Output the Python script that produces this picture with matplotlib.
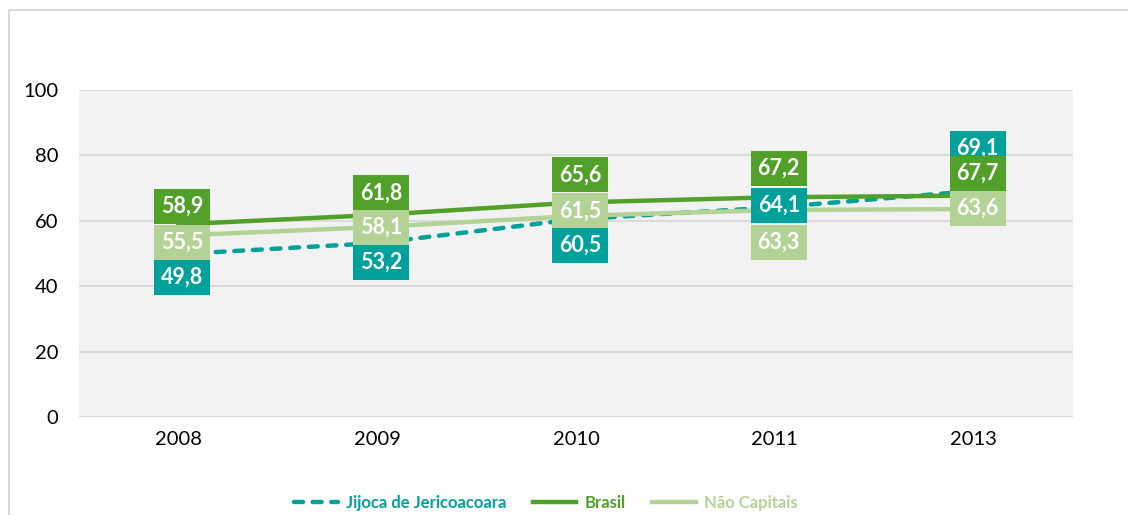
import matplotlib
matplotlib.use("Agg")
import matplotlib.pyplot as plt
from matplotlib.patches import Rectangle
from matplotlib.transforms import IdentityTransform

plt.rcParams['font.family'] = ['Lato', 'DejaVu Sans']

years = ["2008", "2009", "2010", "2011", "2013"]
jijoca = [49.8, 53.2, 60.5, 64.1, 69.1]
brasil = [58.9, 61.8, 65.6, 67.2, 67.7]
nao_capitais = [55.5, 58.1, 61.5, 63.3, 63.6]

series_names = ["Jijoca de Jericoacoara", "Brasil", "Não Capitais"]

C_TEAL = "#00A19A"
C_GREEN = "#50A02A"
C_LIGHT = "#B3D296"

# label box vertical offsets in pixels (positive = downward), style only
off_jij = [23, 19.5, 26.5, -2, -43]
off_bra = [-18, -22, -27.5, -29, -22]
off_nao = [6.5, 0, -5, 32, -1]

W, H = 1128, 515
fig = plt.figure(figsize=(W / 100, H / 100), dpi=100)
ax = fig.add_axes([79 / W, 1 - 417 / H, (1073 - 79) / W, (417 - 90) / H])
ax.set_facecolor("#F2F2F2")

x = list(range(len(years)))
ax.plot(x, jijoca, color=C_TEAL, lw=3.2, dashes=(2, 2.2), dash_capstyle='round',
        zorder=3, label=series_names[0])
ax.plot(x, brasil, color=C_GREEN, lw=3.2, zorder=5, label=series_names[1])
ax.plot(x, nao_capitais, color=C_LIGHT, lw=3.2, zorder=4, label=series_names[2])

ax.set_xlim(-0.5, len(years) - 0.5)
ax.set_ylim(0, 100)
ax.set_yticks([0, 20, 40, 60, 80, 100])
ax.set_xticks(x)
ax.set_xticklabels(years)
ax.tick_params(axis='both', length=0, labelsize=14.5, colors="#000000")
ax.tick_params(axis='y', pad=15)
ax.tick_params(axis='x', pad=10)
for s in ax.spines.values():
    s.set_visible(False)
ax.grid(axis='y', color="#D9D9D9", lw=1.3, zorder=1)
ax.set_axisbelow(True)

# figure border
fig.patches.append(Rectangle((9 / W, -0.1), 1.2, 1.1 - 10 / H,
                             transform=fig.transFigure, fill=False,
                             edgecolor="#D0D0D0", lw=1.2, zorder=0))

fig.canvas.draw()

BW, BH = 56, 35


def draw_labels(vals, offs, color, z):
    for i, (v, o) in enumerate(zip(vals, offs)):
        px, py = ax.transData.transform((i, v))
        cx = px + 4
        cy = py - o
        r = Rectangle((cx - BW / 2, cy - BH / 2), BW, BH, transform=IdentityTransform(),
                      facecolor=color, edgecolor='none', zorder=z)
        fig.patches.append(r)
        fig.text(cx / W, cy / H, f"{v:.1f}".replace('.', ','), color='white',
                 fontsize=15.5, fontweight='bold', ha='center', va='center',
                 zorder=z + 0.5)


draw_labels(jijoca, off_jij, C_TEAL, 10)
draw_labels(nao_capitais, off_nao, C_LIGHT, 11)
draw_labels(brasil, off_bra, C_GREEN, 12)

leg = fig.legend(loc='center', bbox_to_anchor=(546 / W, 1 - 503 / H), ncol=3,
                 frameon=False, handlelength=2.6, handletextpad=0.5,
                 columnspacing=1.6, prop={'weight': 'bold', 'size': 12})
for t, c in zip(leg.get_texts(), [C_TEAL, C_GREEN, C_LIGHT]):
    t.set_color(c)

fig.savefig("out.png", dpi=100)
